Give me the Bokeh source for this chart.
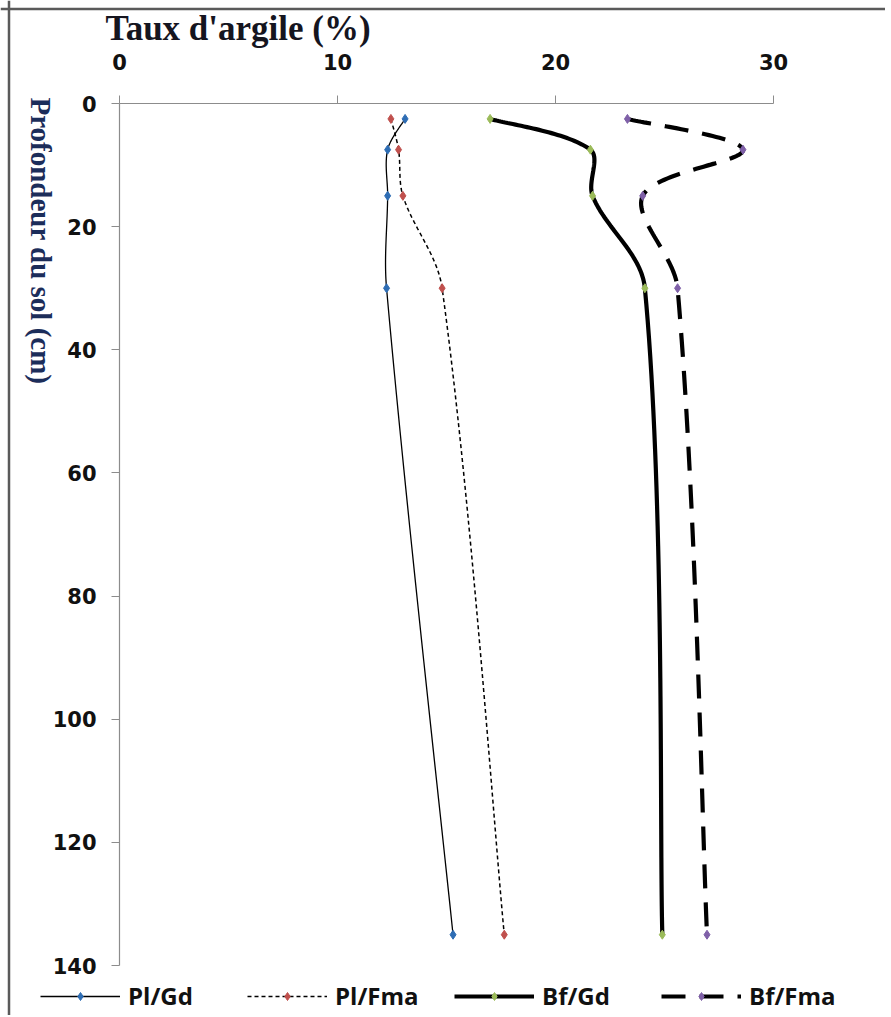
import numpy as np
from bokeh.plotting import figure
from bokeh.models import Range1d, FixedTicker, Legend, LegendItem, Label, LinearAxis, Span
from bokeh.embed import file_html
from bokeh.resources import INLINE

# ---- data ----
depth = [2.5, 7.5, 15, 30, 135]            # Profondeur du sol (cm)
pl_gd = [13.1, 12.3, 12.3, 12.25, 15.3]    # Taux d'argile (%)
pl_fma = [12.45, 12.8, 13.0, 14.8, 17.65]
bf_gd = [17.0, 21.6, 21.7, 24.1, 24.9]
bf_fma = [23.3, 28.6, 24.0, 25.6, 26.95]
series_names = ["Pl/Gd", "Pl/Fma", "Bf/Gd", "Bf/Fma"]
x_ticks = [0, 10, 20, 30]
y_ticks = [0, 20, 40, 60, 80, 100, 120, 140]
x_title = "Taux d'argile (%)"
y_title = "Profondeur du sol (cm)"

# ---- layout (pixels) ----
W, H = 885, 1015
AX_LEFT, AX_TOP = 119, 103          # where x=0 / depth=0 sit
PX_X = 654 / 30                     # px per % clay
PX_Y = 862 / 140                    # px per cm depth

x_range = Range1d(-AX_LEFT / PX_X, (W - AX_LEFT) / PX_X)
y_range = Range1d((H - AX_TOP) / PX_Y, -AX_TOP / PX_Y)


def px_x(px):
    return (px - AX_LEFT) / PX_X


def px_y(px):
    return (px - AX_TOP) / PX_Y


def smooth(xs, ys, n=40):
    """Spreadsheet-style smoothed line: cubic Bezier through the points,
    tangents scaled by chord length (computed in screen proportions)."""
    k = np.array([PX_X, PX_Y])
    Q = np.column_stack([xs, ys]).astype(float) * k
    m = len(Q)
    d = np.linalg.norm(np.diff(Q, axis=0), axis=1)
    T = np.zeros_like(Q)
    T[0] = (Q[1] - Q[0]) / (2 * d[0])
    T[-1] = (Q[-1] - Q[-2]) / (2 * d[-1])
    for i in range(1, m - 1):
        T[i] = (Q[i + 1] - Q[i - 1]) / (d[i - 1] + d[i])
    out = [Q[0]]
    t = np.linspace(0, 1, n)[1:, None]
    for i in range(m - 1):
        c1 = Q[i] + T[i] * d[i] / 3.0
        c2 = Q[i + 1] - T[i + 1] * d[i] / 3.0
        seg = ((1 - t) ** 3) * Q[i] + 3 * ((1 - t) ** 2) * t * c1 + 3 * (1 - t) * t ** 2 * c2 + t ** 3 * Q[i + 1]
        out.extend(seg)
    arr = np.array(out) / k
    return arr[:, 0], arr[:, 1]


p = figure(frame_width=W, frame_height=H, output_backend="svg", toolbar_location=None,
           x_axis_location=None, y_axis_location=None,
           x_range=x_range, y_range=y_range,
           min_border=0)
p.outline_line_color = None
for g in p.grid:
    g.visible = False
p.background_fill_color = "white"
p.border_fill_color = "white"

# chart-area border (top and left edges visible in the reference)
p.add_layout(Span(location=px_x(8.5), dimension="height", line_color="#5a5a5a", line_width=2.5))
p.add_layout(Span(location=px_y(8.5), dimension="width", line_color="#5a5a5a", line_width=2.5))

xax = LinearAxis(fixed_location=0, bounds=(0, 30), ticker=FixedTicker(ticks=x_ticks))
yax = LinearAxis(fixed_location=0, bounds=(0, 140), ticker=FixedTicker(ticks=y_ticks))
for ax in (xax, yax):
    ax.axis_line_color = "#8c8c8c"
    ax.axis_line_width = 1.2
    ax.major_tick_line_color = "#8c8c8c"
    ax.major_tick_in = 0
    ax.major_tick_out = 8
    ax.minor_tick_in = 0
    ax.minor_tick_out = 0
    ax.major_label_text_font = "DejaVu Sans"
    ax.major_label_text_font_style = "bold"
    ax.major_label_text_font_size = "21px"
    ax.major_label_text_color = "#111111"
xax.major_label_standoff = 26
yax.major_label_standoff = 15
p.add_layout(xax, "above")
p.add_layout(yax, "left")

p.add_layout(Label(x=px_x(105), y=px_y(28), text=x_title, text_align="left",
                   text_baseline="alphabetic", text_font="Liberation Serif",
                   text_font_style="bold", text_font_size="35px", text_color="#15151f"))
p.add_layout(Label(x=px_x(40), y=px_y(97), text=y_title, angle=-np.pi / 2, text_align="left",
                   text_baseline="middle", text_font="Liberation Serif",
                   text_font_style="bold", text_font_size="29px", text_color="#1c2d5a"))

styles = [
    dict(color="#2E6DB4", width=1.3, dash="solid"),
    dict(color="#C0504D", width=1.5, dash="4 3"),
    dict(color="#9BBB59", width=4.2, dash="solid"),
    dict(color="#7F60A8", width=4.2, dash="24 14"),
]
items = []
for name, xs, st in zip(series_names, [pl_gd, pl_fma, bf_gd, bf_fma], styles):
    sx, sy = smooth(xs, depth)
    lr = p.line(sx, sy, line_color="black", line_width=st["width"], line_dash=st["dash"])
    mr = p.scatter(xs, depth, marker="diamond", size=9, fill_color=st["color"],
                   line_color=st["color"], line_width=1)
    items.append(LegendItem(label=name, renderers=[lr, mr]))

legend = Legend(items=items, orientation="horizontal", location=(40, 3),
                glyph_width=80, glyph_height=20, label_standoff=8, spacing=31,
                label_width=88, padding=0, margin=0,
                border_line_color=None, background_fill_alpha=0,
                label_text_font="Open Sans", label_text_font_style="bold",
                label_text_font_size="24px", label_text_color="#111111")
p.add_layout(legend)

open("out.html", "w").write(file_html(p, INLINE))
